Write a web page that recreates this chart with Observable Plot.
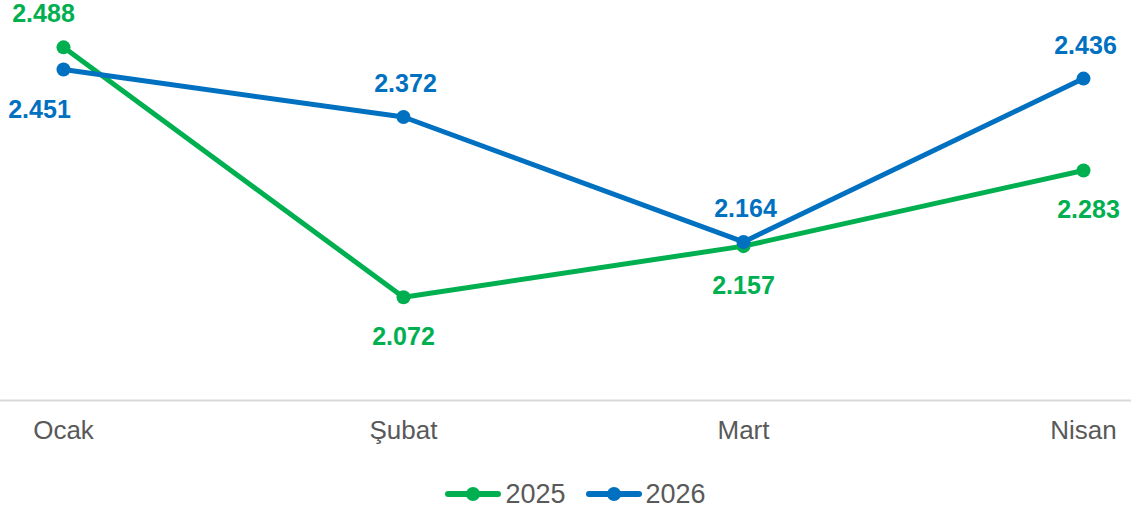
<!DOCTYPE html>
<html>
<head>
<meta charset="utf-8">
<script src="https://cdn.jsdelivr.net/npm/d3@7"></script>
<script src="https://cdn.jsdelivr.net/npm/@observablehq/plot@0.6"></script>
<style>
  body { margin: 0; background: #fff; font-family: "Liberation Sans", Arial, sans-serif; }
  #legend { display: flex; justify-content: center; align-items: center; height: 58px; font-size: 27px; color: #595959; padding-left: 20px; }
  .item { display: flex; align-items: center; margin: 0 10px; }
  .sw { position: relative; width: 56px; height: 6px; border-radius: 3px; margin-right: 4px; }
  .sw span { position: absolute; left: 21px; top: -4px; width: 14px; height: 14px; border-radius: 7px; }
</style>
</head>
<body>
<div id="chart"></div>
<div id="legend"></div>
<script>
const months = ["Ocak", "Şubat", "Mart", "Nisan"];
const series = ["2025", "2026"];
const values2025 = [2.488, 2.072, 2.157, 2.283];
const values2026 = [2.451, 2.372, 2.164, 2.436];
const colors = ["#00b050", "#0070c0"];

const data = [];
months.forEach((m, i) => {
  const a = values2025[i], b = values2026[i];
  data.push({month: m, series: "2025", value: a, above: a >= b, idx: i});
  data.push({month: m, series: "2026", value: b, above: b > a, idx: i});
});
const fmt = v => v.toFixed(3);
const last = months.length - 1;

const labelOpts = (above, dx) => ({
  x: "month", y: "value", text: d => fmt(d.value), fill: "series",
  dy: above ? -33 : 40, dx, fontSize: 25, fontWeight: "bold"
});

const plot = Plot.plot({
  width: 1131,
  height: 465,
  marginLeft: 63,
  marginRight: 48,
  marginTop: 0,
  marginBottom: 65,
  x: {type: "point", domain: months, padding: 0, label: null},
  y: {domain: [1.9, 2.566], axis: null},
  color: {domain: series, range: colors},
  style: {fontFamily: "Liberation Sans, Arial, sans-serif", background: "#fff"},
  marks: [
    Plot.ruleY([1.9], {stroke: "#d9d9d9", strokeWidth: 2, insetLeft: -63, insetRight: -48}),
    Plot.axisX({tickSize: 0, tickPadding: 20, fontSize: 26, fill: "#595959", label: null}),
    Plot.line(data, {x: "month", y: "value", z: "series", stroke: "series", strokeWidth: 5}),
    Plot.dot(data, {x: "month", y: "value", fill: "series", r: 7}),
    Plot.text(data.filter(d => d.above && d.idx === 0), labelOpts(true, -20)),
    Plot.text(data.filter(d => !d.above && d.idx === 0), labelOpts(false, -24)),
    Plot.text(data.filter(d => d.above && d.idx > 0), labelOpts(true, 2)),
    Plot.text(data.filter(d => !d.above && d.idx > 0 && d.idx < last), labelOpts(false, 0)),
    Plot.text(data.filter(d => !d.above && d.idx === last), labelOpts(false, 5))
  ]
});
document.getElementById("chart").appendChild(plot);

const legend = document.getElementById("legend");
series.forEach((s, i) => {
  const it = document.createElement("div");
  it.className = "item";
  it.innerHTML = `<div class="sw" style="background:${colors[i]}"><span style="background:${colors[i]}"></span></div>${s}`;
  legend.appendChild(it);
});
</script>
</body>
</html>
